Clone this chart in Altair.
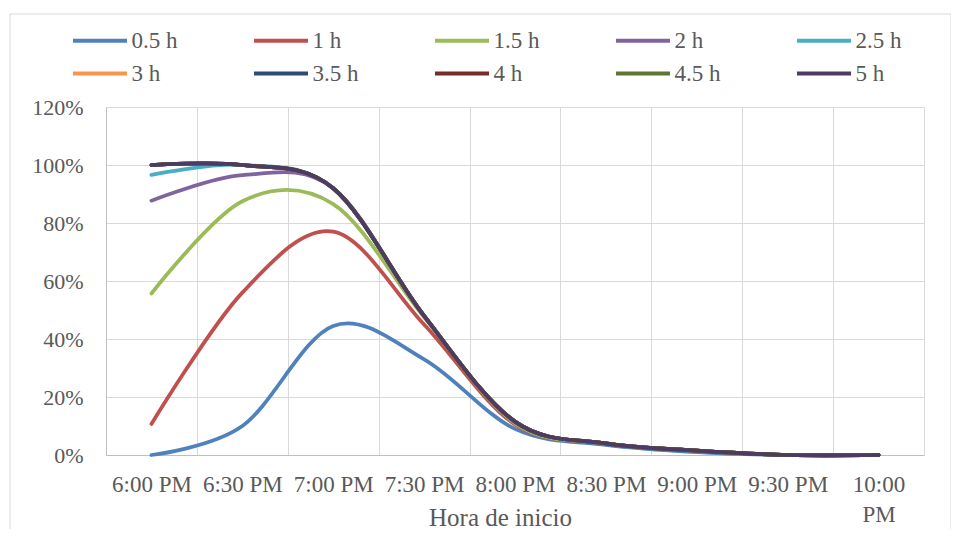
import altair as alt
import pandas as pd

# Category axis (start time)
times = ["6:00 PM", "6:30 PM", "7:00 PM", "7:30 PM", "8:00 PM",
         "8:30 PM", "9:00 PM", "9:30 PM", "10:00 PM"]

series_names = ["0.5 h", "1 h", "1.5 h", "2 h", "2.5 h",
                "3 h", "3.5 h", "4 h", "4.5 h", "5 h"]

# values in percent
s_05 = [0.0, 10.0, 44.5, 33.0, 9.0, 3.5, 1.0, 0.0, 0.0]
s_10 = [10.7, 56.0, 77.0, 45.0, 10.5, 4.0, 1.5, 0.0, 0.0]
s_15 = [55.7, 87.5, 86.5, 47.5, 11.0, 4.0, 1.5, 0.0, 0.0]
s_20 = [87.7, 96.5, 92.0, 48.0, 11.5, 4.0, 1.5, 0.0, 0.0]
s_25 = [96.6, 100.0, 92.0, 48.0, 11.5, 4.0, 1.5, 0.0, 0.0]
s_30 = [100.0, 100.0, 92.0, 48.0, 11.5, 4.0, 1.5, 0.0, 0.0]
s_35 = [100.0, 100.0, 92.0, 48.0, 11.5, 4.0, 1.5, 0.0, 0.0]
s_40 = [100.0, 100.0, 92.0, 48.0, 11.5, 4.0, 1.5, 0.0, 0.0]
s_45 = [100.0, 100.0, 92.0, 48.0, 11.5, 4.0, 1.5, 0.0, 0.0]
s_50 = [100.0, 100.0, 92.0, 48.0, 11.5, 4.0, 1.5, 0.0, 0.0]

all_series = [s_05, s_10, s_15, s_20, s_25, s_30, s_35, s_40, s_45, s_50]

colors = ["#4F81BD", "#C0504D", "#9BBB59", "#8064A2", "#4BACC6",
          "#F79646", "#2C4D75", "#772C2A", "#5F7530", "#4D3B62"]

y_ticks = [0, 0.2, 0.4, 0.6, 0.8, 1.0, 1.2]

rows = []
for name, vals in zip(series_names, all_series):
    for i, (t, v) in enumerate(zip(times, vals)):
        rows.append({"Hora": t, "serie": name, "valor": v / 100.0, "orden": i})
df = pd.DataFrame(rows)

FONT = "Liberation Serif"
TXT = "#595959"

x_enc = alt.X(
    "Hora:O",
    sort=times,
    bandPosition=0.5,
    scale=alt.Scale(type="band", paddingInner=0, paddingOuter=0),
    axis=alt.Axis(
        title="Hora de inicio",
        titleFont=FONT, titleFontSize=25, titleFontWeight="normal", titleColor=TXT,
        titleX=394, titleY=70, titleBaseline="alphabetic", titleAlign="center",
        labelFont=FONT, labelFontSize=23, labelColor=TXT, labelAngle=0,
        labelPadding=18, labelLineHeight=30, labelOverlap=False,
        labelExpr="datum.label == '10:00 PM' ? ['10:00', 'PM'] : datum.label",
        ticks=False, tickBand="extent",
        grid=True, gridColor="#D9D9D9", gridWidth=1,
        domainColor="#BFBFBF", domainWidth=1,
    ),
)

y_enc = alt.Y(
    "valor:Q",
    scale=alt.Scale(domain=[0, 1.2], nice=False),
    axis=alt.Axis(
        title=None, format=".0%", values=y_ticks,
        labelFont=FONT, labelFontSize=22, labelColor=TXT, labelPadding=23,
        ticks=False, grid=True, gridColor="#D9D9D9", gridWidth=1,
        domainColor="#BFBFBF", domainWidth=1,
    ),
)

lines = alt.Chart(df).mark_line(
    interpolate="cardinal", tension=0, strokeWidth=3.75, strokeCap="round"
).encode(
    x=x_enc,
    y=y_enc,
    order=alt.Order("orden:Q"),
    color=alt.Color(
        "serie:N",
        scale=alt.Scale(domain=series_names, range=colors),
        legend=alt.Legend(
            title=None, orient="none", legendX=-35, legendY=-82,
            direction="horizontal", columns=5, gridAlign="all",
            symbolType="M-2,0H2", symbolSize=729, symbolStrokeWidth=4,
            symbolOffset=13.5, symbolFillColor="transparent",
            labelFont=FONT, labelFontSize=23, labelColor=TXT, labelOffset=16,
            columnPadding=68, rowPadding=5, padding=0,
        ),
    ),
)

frame = alt.Chart(pd.DataFrame({"a": [0]})).mark_rect(
    fill=None, stroke="#D9D9D9", strokeWidth=1, clip=False
).encode(
    x=alt.value(-96), x2=alt.value(845), y=alt.value(-93), y2=alt.value(440)
)

chart = alt.layer(frame, lines).properties(
    width=818, height=348,
    autosize=alt.AutoSizeParams(type="none"),
    padding={"left": 98, "top": 99, "right": 27, "bottom": 74},
).configure_view(stroke=None)

chart.save("out.html", embed_options={"renderer": "svg", "actions": False})
